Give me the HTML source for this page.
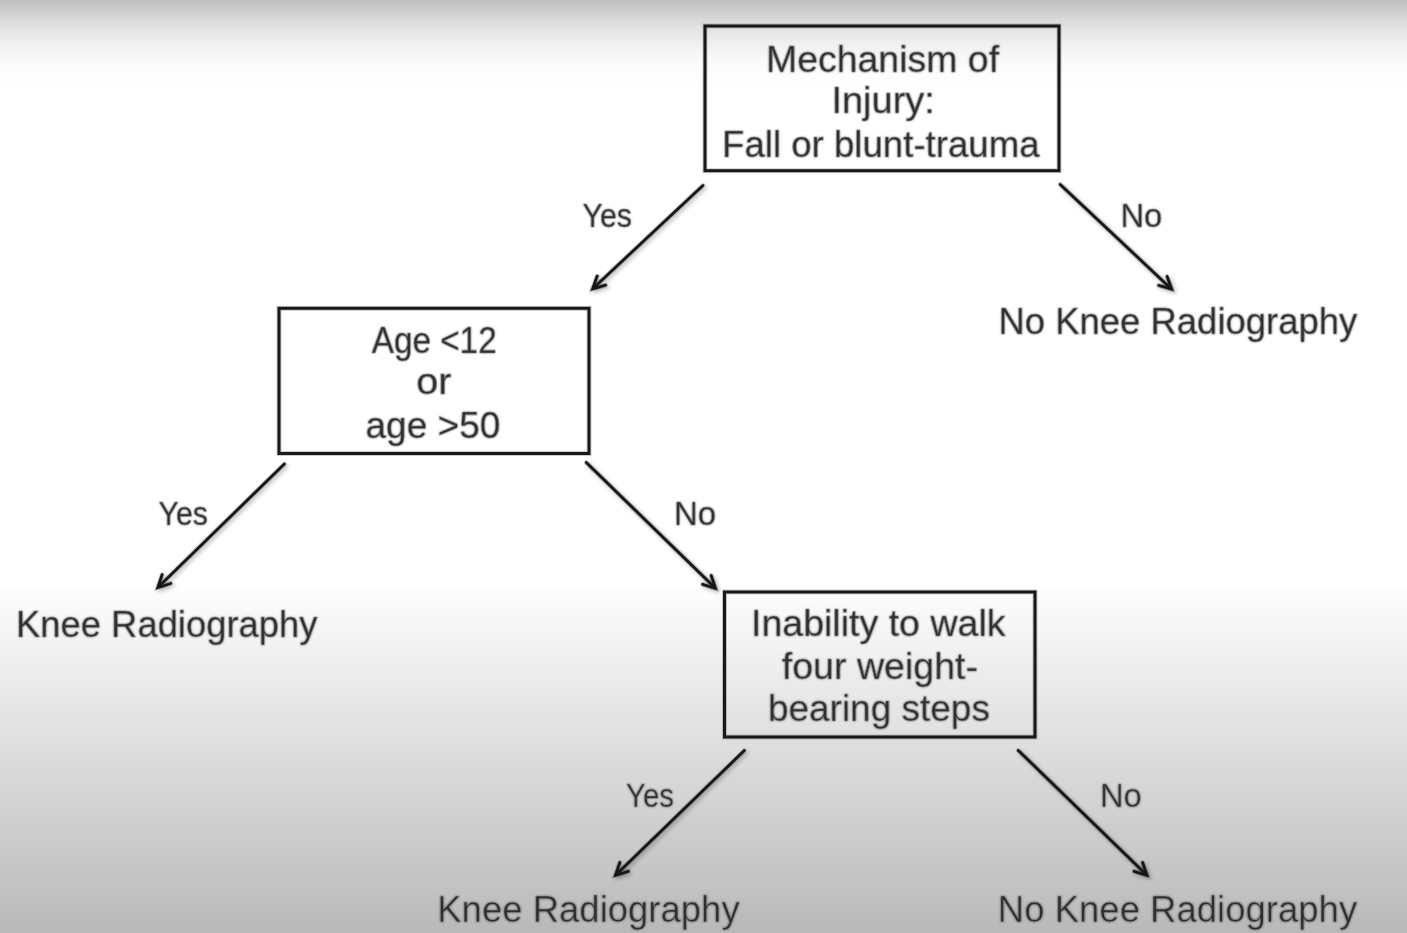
<!DOCTYPE html>
<html><head><meta charset="utf-8"><title>Knee radiography decision tree</title>
<style>
html,body{margin:0;padding:0;width:1407px;height:933px;overflow:hidden;}
body{background:linear-gradient(to bottom,#bdbdbd 0px,#cccccc 10px,#dadada 20px,#e4e4e4 30px,#f1f1f1 45px,#f9f9f9 60px,#fdfdfd 75px,#ffffff 88px,#ffffff 589px,#fdfdfd 590px,#b9b9b9 933px);}
svg{position:absolute;left:0;top:0;}
text{font-family:"Liberation Sans",sans-serif;fill:#262626;white-space:pre;}
.crisp text{fill:#3a3a3a;stroke:url(#bg);stroke-width:0.7px;}
</style></head><body>
<svg width="1407" height="933" viewBox="0 0 1407 933">
<defs>
<filter id="sh" x="-5%" y="-5%" width="110%" height="110%">
<feGaussianBlur in="SourceAlpha" stdDeviation="2.0" result="b"/>
<feOffset in="b" dx="1.6" dy="1.6" result="o"/>
<feComponentTransfer in="o" result="oo"><feFuncA type="linear" slope="0.3"/></feComponentTransfer>
<feMerge><feMergeNode in="oo"/><feMergeNode in="SourceGraphic"/></feMerge>
</filter>
<linearGradient id="bg" gradientUnits="userSpaceOnUse" x1="0" y1="0" x2="0" y2="933">
<stop offset="0" stop-color="#bdbdbd"/><stop offset="0.01072" stop-color="#cccccc"/><stop offset="0.02144" stop-color="#dadada"/><stop offset="0.03215" stop-color="#e4e4e4"/><stop offset="0.04823" stop-color="#f1f1f1"/><stop offset="0.06431" stop-color="#f9f9f9"/><stop offset="0.08039" stop-color="#fdfdfd"/><stop offset="0.09432" stop-color="#ffffff"/><stop offset="0.63130" stop-color="#ffffff"/><stop offset="0.63237" stop-color="#fdfdfd"/><stop offset="1" stop-color="#b9b9b9"/>
</linearGradient>
<filter id="tb" x="-5%" y="-5%" width="110%" height="110%"><feGaussianBlur stdDeviation="0.8"/></filter>
</defs>
<g fill="none" stroke="#181818" stroke-width="5" stroke-opacity="0.22">
<rect x="705" y="26" width="354.0" height="144.7"/>
<rect x="279" y="308.3" width="310.0" height="145.2"/>
<rect x="724.5" y="592" width="310.5" height="145.0"/>
</g>
<g fill="none" stroke="#181818" stroke-width="3.0">
<rect x="705" y="26" width="354.0" height="144.7"/>
<rect x="279" y="308.3" width="310.0" height="145.2"/>
<rect x="724.5" y="592" width="310.5" height="145.0"/>
</g>
<g filter="url(#sh)">
<g stroke="#181818" fill="#181818" stroke-width="4.8" stroke-opacity="0.22" fill-opacity="0" stroke-linecap="round" stroke-linejoin="round">
<line x1="702.9" y1="185.5" x2="594.8" y2="286.8"/>
<path fill="none" stroke-linejoin="miter" stroke-miterlimit="10" d="M605.6,285.1 L592.6,288.8 L597.2,276.1"/>
<path stroke="none" d="M592.6,288.8 L599.4,286.9 L595.6,286.1 L595.0,282.2 Z"/>
<line x1="1060.2" y1="184.4" x2="1169.5" y2="287.2"/>
<path fill="none" stroke-linejoin="miter" stroke-miterlimit="10" d="M1167.1,276.5 L1171.7,289.2 L1158.7,285.4"/>
<path stroke="none" d="M1171.7,289.2 L1169.3,282.6 L1168.8,286.5 L1164.9,287.3 Z"/>
<line x1="284.3" y1="464.1" x2="159.9" y2="585.4"/>
<path fill="none" stroke-linejoin="miter" stroke-miterlimit="10" d="M170.7,583.5 L157.8,587.5 L162.1,574.7"/>
<path stroke="none" d="M157.8,587.5 L164.5,585.4 L160.7,584.7 L160.0,580.8 Z"/>
<line x1="586.3" y1="462.6" x2="713.4" y2="586.2"/>
<path fill="none" stroke-linejoin="miter" stroke-miterlimit="10" d="M711.2,575.5 L715.5,588.3 L702.6,584.3"/>
<path stroke="none" d="M715.5,588.3 L713.2,581.6 L712.6,585.5 L708.8,586.2 Z"/>
<line x1="744.3" y1="750.6" x2="617.6" y2="873.2"/>
<path fill="none" stroke-linejoin="miter" stroke-miterlimit="10" d="M628.3,871.3 L615.4,875.3 L619.8,862.5"/>
<path stroke="none" d="M615.4,875.3 L622.1,873.2 L618.3,872.5 L617.7,868.7 Z"/>
<line x1="1018.3" y1="750.4" x2="1144.8" y2="873.2"/>
<path fill="none" stroke-linejoin="miter" stroke-miterlimit="10" d="M1142.6,862.5 L1147.0,875.3 L1134.1,871.3"/>
<path stroke="none" d="M1147.0,875.3 L1144.7,868.6 L1144.1,872.5 L1140.3,873.2 Z"/>
</g>
<g stroke="#181818" fill="#181818" stroke-width="2.8" stroke-linecap="round" stroke-linejoin="round">
<line x1="702.9" y1="185.5" x2="594.8" y2="286.8"/>
<path fill="none" stroke-linejoin="miter" stroke-miterlimit="10" d="M605.6,285.1 L592.6,288.8 L597.2,276.1"/>
<path stroke="none" d="M592.6,288.8 L599.4,286.9 L595.6,286.1 L595.0,282.2 Z"/>
<line x1="1060.2" y1="184.4" x2="1169.5" y2="287.2"/>
<path fill="none" stroke-linejoin="miter" stroke-miterlimit="10" d="M1167.1,276.5 L1171.7,289.2 L1158.7,285.4"/>
<path stroke="none" d="M1171.7,289.2 L1169.3,282.6 L1168.8,286.5 L1164.9,287.3 Z"/>
<line x1="284.3" y1="464.1" x2="159.9" y2="585.4"/>
<path fill="none" stroke-linejoin="miter" stroke-miterlimit="10" d="M170.7,583.5 L157.8,587.5 L162.1,574.7"/>
<path stroke="none" d="M157.8,587.5 L164.5,585.4 L160.7,584.7 L160.0,580.8 Z"/>
<line x1="586.3" y1="462.6" x2="713.4" y2="586.2"/>
<path fill="none" stroke-linejoin="miter" stroke-miterlimit="10" d="M711.2,575.5 L715.5,588.3 L702.6,584.3"/>
<path stroke="none" d="M715.5,588.3 L713.2,581.6 L712.6,585.5 L708.8,586.2 Z"/>
<line x1="744.3" y1="750.6" x2="617.6" y2="873.2"/>
<path fill="none" stroke-linejoin="miter" stroke-miterlimit="10" d="M628.3,871.3 L615.4,875.3 L619.8,862.5"/>
<path stroke="none" d="M615.4,875.3 L622.1,873.2 L618.3,872.5 L617.7,868.7 Z"/>
<line x1="1018.3" y1="750.4" x2="1144.8" y2="873.2"/>
<path fill="none" stroke-linejoin="miter" stroke-miterlimit="10" d="M1142.6,862.5 L1147.0,875.3 L1134.1,871.3"/>
<path stroke="none" d="M1147.0,875.3 L1144.7,868.6 L1144.1,872.5 L1140.3,873.2 Z"/>
</g>
</g>
<g class="crisp" opacity="0.999">
<text transform="translate(765.96,71.50) scale(1.0123,1)" font-size="37">Mechanism of</text>
<text transform="translate(831.42,112.50) scale(1.0266,1)" font-size="37">Injury:</text>
<text transform="translate(722.03,157.00) scale(0.9903,1)" font-size="37">Fall or blunt-trauma</text>
<text transform="translate(371.70,352.60) scale(0.9000,1)" font-size="37">Age &lt;12</text>
<text transform="translate(416.26,394.40) scale(1.0700,1)" font-size="37">or</text>
<text transform="translate(365.50,438.30) scale(1.0008,1)" font-size="37">age &gt;50</text>
<text transform="translate(750.96,636.40) scale(1.0149,1)" font-size="37">Inability to walk</text>
<text transform="translate(781.78,678.60) scale(1.0157,1)" font-size="37">four weight-</text>
<text transform="translate(767.90,721.40) scale(0.9995,1)" font-size="37">bearing steps</text>
<text transform="translate(582.48,227.20) scale(0.9173,1)" font-size="33">Yes</text>
<text transform="translate(1120.42,227.20) scale(0.9947,1)" font-size="33">No</text>
<text transform="translate(158.58,524.90) scale(0.9173,1)" font-size="33">Yes</text>
<text transform="translate(673.91,524.80) scale(0.9974,1)" font-size="33">No</text>
<text transform="translate(626.01,806.90) scale(0.8904,1)" font-size="33">Yes</text>
<text transform="translate(1099.92,806.80) scale(0.9947,1)" font-size="33">No</text>
<text transform="translate(998.54,334.10) scale(0.9856,1)" font-size="37">No Knee Radiography</text>
<text transform="translate(16.05,636.50) scale(0.9835,1)" font-size="37">Knee Radiography</text>
<text transform="translate(437.24,922.00) scale(0.9871,1)" font-size="37">Knee Radiography</text>
<text transform="translate(997.84,921.90) scale(0.9875,1)" font-size="37">No Knee Radiography</text>
</g>
<g filter="url(#tb)" opacity="0.6">
<text transform="translate(765.96,71.50) scale(1.0123,1)" font-size="37">Mechanism of</text>
<text transform="translate(831.42,112.50) scale(1.0266,1)" font-size="37">Injury:</text>
<text transform="translate(722.03,157.00) scale(0.9903,1)" font-size="37">Fall or blunt-trauma</text>
<text transform="translate(371.70,352.60) scale(0.9000,1)" font-size="37">Age &lt;12</text>
<text transform="translate(416.26,394.40) scale(1.0700,1)" font-size="37">or</text>
<text transform="translate(365.50,438.30) scale(1.0008,1)" font-size="37">age &gt;50</text>
<text transform="translate(750.96,636.40) scale(1.0149,1)" font-size="37">Inability to walk</text>
<text transform="translate(781.78,678.60) scale(1.0157,1)" font-size="37">four weight-</text>
<text transform="translate(767.90,721.40) scale(0.9995,1)" font-size="37">bearing steps</text>
<text transform="translate(582.48,227.20) scale(0.9173,1)" font-size="33">Yes</text>
<text transform="translate(1120.42,227.20) scale(0.9947,1)" font-size="33">No</text>
<text transform="translate(158.58,524.90) scale(0.9173,1)" font-size="33">Yes</text>
<text transform="translate(673.91,524.80) scale(0.9974,1)" font-size="33">No</text>
<text transform="translate(626.01,806.90) scale(0.8904,1)" font-size="33">Yes</text>
<text transform="translate(1099.92,806.80) scale(0.9947,1)" font-size="33">No</text>
<text transform="translate(998.54,334.10) scale(0.9856,1)" font-size="37">No Knee Radiography</text>
<text transform="translate(16.05,636.50) scale(0.9835,1)" font-size="37">Knee Radiography</text>
<text transform="translate(437.24,922.00) scale(0.9871,1)" font-size="37">Knee Radiography</text>
<text transform="translate(997.84,921.90) scale(0.9875,1)" font-size="37">No Knee Radiography</text>
</g>
</svg>
</body></html>
